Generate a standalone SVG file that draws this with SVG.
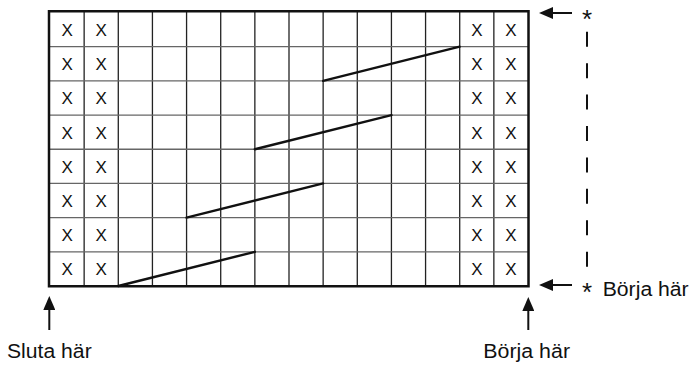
<svg xmlns="http://www.w3.org/2000/svg" width="694" height="367" viewBox="0 0 694 367">
<style>
.v{stroke:#222;stroke-width:1.3}
.h{stroke:#666;stroke-width:1.3}
.diag{stroke:#111;stroke-width:2.4;stroke-linecap:round}
.x{font-family:"Liberation Sans",Arial,sans-serif;font-size:17px;fill:#111;text-anchor:middle}
.lbl{font-family:"Liberation Sans",Arial,sans-serif;font-size:20px;fill:#111}
.star{font-family:"Liberation Sans",Arial,sans-serif;font-size:26px;fill:#111;text-anchor:middle}
.arr{stroke:#111;stroke-width:2;fill:none}
.dash{stroke:#111;stroke-width:2;stroke-dasharray:15 16.43}
</style>
<defs>
<marker id="ah" viewBox="0 0 14 12" refX="2" refY="6" markerWidth="14" markerHeight="12" orient="auto" markerUnits="userSpaceOnUse">
<path d="M0,0 L14,6 L0,12 z" fill="#111"/>
</marker>
</defs>
<rect width="694" height="367" fill="#fff"/>
<g id="grid">
<g class="v">
<line x1="84.14" y1="12" x2="84.14" y2="286"/>
<line x1="118.29" y1="12" x2="118.29" y2="286"/>
<line x1="152.43" y1="12" x2="152.43" y2="286"/>
<line x1="186.57" y1="12" x2="186.57" y2="286"/>
<line x1="220.71" y1="12" x2="220.71" y2="286"/>
<line x1="254.86" y1="12" x2="254.86" y2="286"/>
<line x1="289" y1="12" x2="289" y2="286"/>
<line x1="323.14" y1="12" x2="323.14" y2="286"/>
<line x1="357.29" y1="12" x2="357.29" y2="286"/>
<line x1="391.43" y1="12" x2="391.43" y2="286"/>
<line x1="425.57" y1="12" x2="425.57" y2="286"/>
<line x1="459.71" y1="12" x2="459.71" y2="286"/>
<line x1="493.86" y1="12" x2="493.86" y2="286"/>
</g>
<g class="h">
<line x1="49" y1="46.69" x2="528" y2="46.69"/>
<line x1="49" y1="80.88" x2="528" y2="80.88"/>
<line x1="49" y1="115.06" x2="528" y2="115.06"/>
<line x1="49" y1="149.25" x2="528" y2="149.25"/>
<line x1="49" y1="183.44" x2="528" y2="183.44"/>
<line x1="49" y1="217.63" x2="528" y2="217.63"/>
<line x1="49" y1="251.81" x2="528" y2="251.81"/>
</g>
<rect x="49" y="11.25" width="479.5" height="275" fill="none" stroke="#111" stroke-width="2.5"/>
<g class="diag">
<line x1="118.29" y1="286" x2="254.86" y2="251.81"/>
<line x1="186.57" y1="217.63" x2="323.14" y2="183.44"/>
<line x1="254.86" y1="149.25" x2="391.43" y2="115.06"/>
<line x1="323.14" y1="80.88" x2="459.71" y2="46.69"/>
</g>
<g class="x">
<text x="67.07" y="35.9">X</text><text x="101.2" y="35.9">X</text><text x="476.8" y="35.9">X</text><text x="510.9" y="35.9">X</text>
<text x="67.07" y="70.1">X</text><text x="101.2" y="70.1">X</text><text x="476.8" y="70.1">X</text><text x="510.9" y="70.1">X</text>
<text x="67.07" y="104.3">X</text><text x="101.2" y="104.3">X</text><text x="476.8" y="104.3">X</text><text x="510.9" y="104.3">X</text>
<text x="67.07" y="138.5">X</text><text x="101.2" y="138.5">X</text><text x="476.8" y="138.5">X</text><text x="510.9" y="138.5">X</text>
<text x="67.07" y="172.6">X</text><text x="101.2" y="172.6">X</text><text x="476.8" y="172.6">X</text><text x="510.9" y="172.6">X</text>
<text x="67.07" y="206.8">X</text><text x="101.2" y="206.8">X</text><text x="476.8" y="206.8">X</text><text x="510.9" y="206.8">X</text>
<text x="67.07" y="241">X</text><text x="101.2" y="241">X</text><text x="476.8" y="241">X</text><text x="510.9" y="241">X</text>
<text x="67.07" y="275.2">X</text><text x="101.2" y="275.2">X</text><text x="476.8" y="275.2">X</text><text x="510.9" y="275.2">X</text>
</g>
</g>
<g id="connectors">
<line class="arr" x1="572" y1="13" x2="551" y2="13" marker-end="url(#ah)"/>
<line class="arr" x1="572" y1="285" x2="551" y2="285" marker-end="url(#ah)"/>
<line class="arr" x1="49.3" y1="330" x2="49.3" y2="308" marker-end="url(#ah)"/>
<line class="arr" x1="528.3" y1="330" x2="528.3" y2="309" marker-end="url(#ah)"/>
<line class="dash" x1="587" y1="31.7" x2="587" y2="266.7"/>
</g>
<g id="star-top"><text class="star" x="587" y="27.8">*</text></g>
<g id="start-right">
<text class="star" x="587" y="300.8">*</text>
<text class="lbl" x="602.7" y="296" textLength="86" lengthAdjust="spacingAndGlyphs">Börja här</text>
</g>
<g id="end-left"><text class="lbl" x="7" y="358" textLength="84.7" lengthAdjust="spacingAndGlyphs">Sluta här</text></g>
<g id="start-bottom"><text class="lbl" x="483.3" y="358" textLength="86.7" lengthAdjust="spacingAndGlyphs">Börja här</text></g>
</svg>
